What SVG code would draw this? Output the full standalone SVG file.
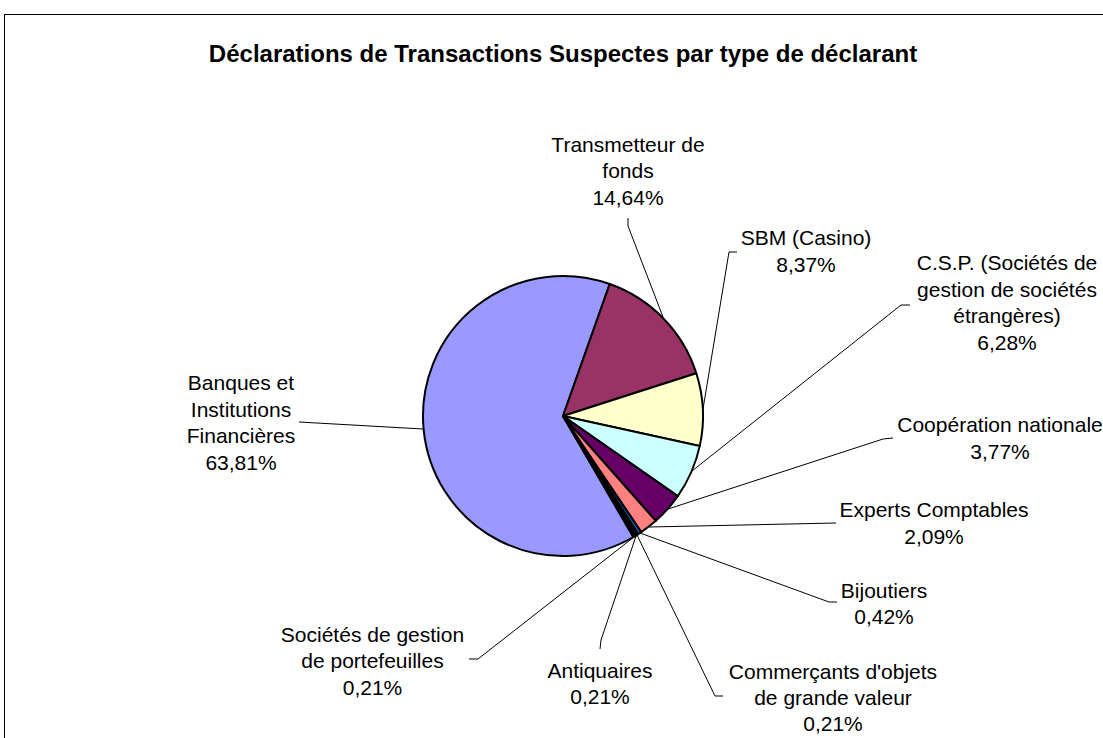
<svg xmlns="http://www.w3.org/2000/svg" width="1103" height="738" viewBox="0 0 1103 738">
<style>
.lbl{font-family:"Liberation Sans",Arial,sans-serif;font-size:21px;fill:#000;text-anchor:middle}
.ttl{font-family:"Liberation Sans",Arial,sans-serif;font-size:24px;font-weight:bold;fill:#000;text-anchor:middle}
.sl{stroke:#000;stroke-width:2;stroke-linejoin:round}
.ld{fill:none;stroke:#000;stroke-width:1}
</style>
<rect x="0" y="0" width="1103" height="738" fill="#fff"/>
<rect x="4.5" y="14.5" width="1120" height="760" fill="#fff" stroke="#000" stroke-width="1"/>
<text class="ttl" x="563" y="62">Déclarations de Transactions Suspectes par type de déclarant</text>

<g id="connectors">
<polyline class="ld" points="628,218 628,226 663,317"/>
<polyline class="ld" points="737,252 729,252 703,409"/>
<polyline class="ld" points="910,305 901,305 692,471"/>
<polyline class="ld" points="893,438 883,439 668,509"/>
<polyline class="ld" points="836,523 649,527"/>
<polyline class="ld" points="837,602 829,602 640,533"/>
<polyline class="ld" points="723,696 715,696 637,535"/>
<polyline class="ld" points="600,649 601,640 636,536"/>
<polyline class="ld" points="469,659 478,659 634,537"/>
<polyline class="ld" points="299,422 423,429"/>
</g>

<g id="banques">
<path class="sl" fill="#9999FF" d="M563,416 L633.41,537.00 A140,140 0 1 1 609.73,284.04 Z"/>
<text class="lbl" x="241" y="390">Banques et</text>
<text class="lbl" x="241" y="417">Institutions</text>
<text class="lbl" x="241" y="443">Financières</text>
<text class="lbl" x="241" y="470">63,81%</text>
</g>
<g id="transmetteur">
<path class="sl" fill="#993366" d="M563,416 L609.73,284.04 A140,140 0 0 1 696.30,373.20 Z"/>
<text class="lbl" x="628" y="152">Transmetteur de</text>
<text class="lbl" x="628" y="178">fonds</text>
<text class="lbl" x="628" y="205">14,64%</text>
</g>
<g id="sbm">
<path class="sl" fill="#FFFFCC" d="M563,416 L696.30,373.20 A140,140 0 0 1 699.77,445.90 Z"/>
<text class="lbl" x="806" y="245">SBM (Casino)</text>
<text class="lbl" x="806" y="272">8,37%</text>
</g>
<g id="csp">
<path class="sl" fill="#CCFFFF" d="M563,416 L699.77,445.90 A140,140 0 0 1 677.79,496.16 Z"/>
<text class="lbl" x="1007" y="270">C.S.P. (Sociétés de</text>
<text class="lbl" x="1007" y="297">gestion de sociétés</text>
<text class="lbl" x="1007" y="323">étrangères)</text>
<text class="lbl" x="1007" y="350">6,28%</text>
</g>
<g id="cooperation">
<path class="sl" fill="#660066" d="M563,416 L677.79,496.16 A140,140 0 0 1 655.75,520.87 Z"/>
<text class="lbl" x="1000" y="432">Coopération nationale</text>
<text class="lbl" x="1000" y="459">3,77%</text>
</g>
<g id="experts">
<path class="sl" fill="#FF8080" d="M563,416 L655.75,520.87 A140,140 0 0 1 641.20,532.12 Z"/>
<text class="lbl" x="934" y="517">Experts Comptables</text>
<text class="lbl" x="934" y="544">2,09%</text>
</g>
<g id="bijoutiers">
<path class="sl" fill="#0066CC" d="M563,416 L641.20,532.12 A140,140 0 0 1 638.12,534.13 Z"/>
<text class="lbl" x="884" y="598">Bijoutiers</text>
<text class="lbl" x="884" y="624">0,42%</text>
</g>
<g id="commercants">
<path class="sl" fill="#CCCCFF" d="M563,416 L638.12,534.13 A140,140 0 0 1 636.57,535.11 Z"/>
<text class="lbl" x="833" y="679">Commerçants d'objets</text>
<text class="lbl" x="833" y="705">de grande valeur</text>
<text class="lbl" x="833" y="731">0,21%</text>
</g>
<g id="antiquaires">
<path class="sl" fill="#000080" d="M563,416 L636.57,535.11 A140,140 0 0 1 634.99,536.08 Z"/>
<text class="lbl" x="600" y="678">Antiquaires</text>
<text class="lbl" x="600" y="704">0,21%</text>
</g>
<g id="societes">
<path class="sl" fill="#FF00FF" d="M563,416 L634.99,536.08 A140,140 0 0 1 633.41,537.00 Z"/>
<text class="lbl" x="372.5" y="642">Sociétés de gestion</text>
<text class="lbl" x="372.5" y="668">de portefeuilles</text>
<text class="lbl" x="372.5" y="695">0,21%</text>
</g>
</svg>
